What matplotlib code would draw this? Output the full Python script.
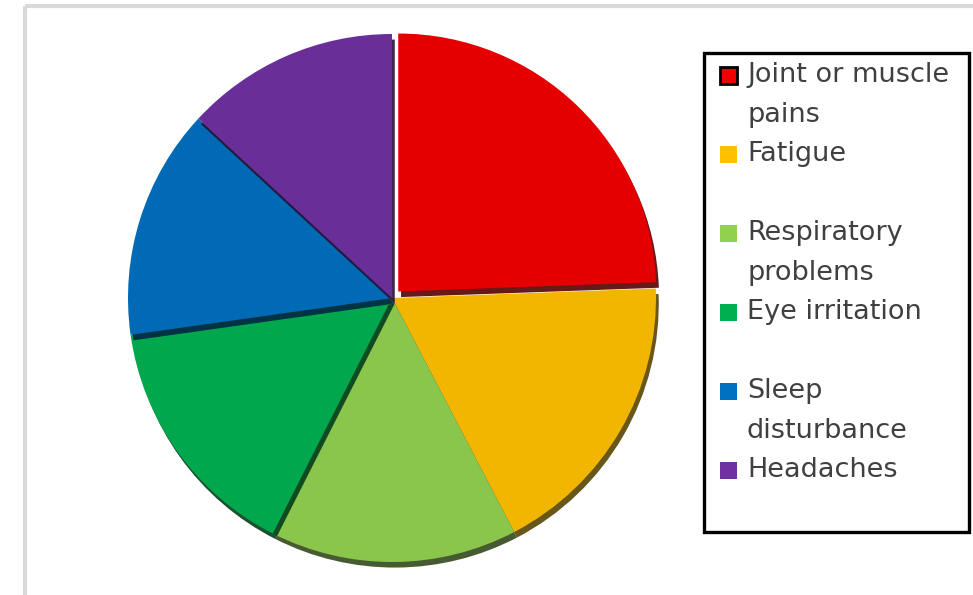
import matplotlib
matplotlib.use("Agg")
import matplotlib.pyplot as plt
import matplotlib.patheffects as pe
from matplotlib.colors import to_rgb
from matplotlib.patches import Rectangle
import numpy as np

# symptom shares (percent), clockwise from 12 o'clock
labels = ["Joint or muscle\npains", "Fatigue", "Respiratory\nproblems",
          "Eye irritation", "Sleep\ndisturbance", "Headaches"]
shares = [24.4, 17.9, 15.1, 15.3, 14.1, 13.1]
colors = ["#F00000", "#FFC000", "#92D050", "#00B050", "#0070C0", "#7030A0"]


def shade(c, f):
    r, g, b = to_rgb(c)
    return (r * f, g * f, b * f)


W, H = 973, 595
fig = plt.figure(figsize=(W / 100, H / 100), dpi=100)
ax = fig.add_axes([0, 0, 1, 1])

# light grey chart frame (only top and left visible)
ax.plot([25, W], [H - 6, H - 6], color="#D9D9D9", lw=3, solid_capstyle="butt")
ax.plot([25, 25], [0, H - 6], color="#D9D9D9", lw=3, solid_capstyle="butt")

pie_colors = [shade(c, 0.95) for c in colors]
explode = [9, 0, 0, 0, 0, 0]   # pie() takes explode in data units here (pixels)
wedges, _ = ax.pie(shares, colors=pie_colors, explode=explode, startangle=90,
                   counterclock=False, center=(392, H - 298), radius=264,
                   frame=True, wedgeprops=dict(linewidth=0))
wedges[0].set_radius(258)
for w, c in zip(wedges, colors):
    w.set_path_effects([pe.SimplePatchShadow(offset=(2, -4), shadow_rgbFace=shade(c, 0.35), alpha=0.9),
                        pe.Normal()])
ax.set_xlim(0, W)
ax.set_ylim(0, H)
ax.set_aspect("auto")
ax.axis("off")

# legend drawn by hand: each entry keeps the same vertical slot
ax.add_patch(Rectangle((704, H - 532), 265, 479, fill=False, edgecolor="black", lw=2.4))
first_y = 75
step = 79
for i, (lab, c) in enumerate(zip(labels, colors)):
    y = first_y + i * step
    ax.add_patch(Rectangle((720, H - y - 8.5), 17, 17, facecolor=c,
                           edgecolor="black" if i == 0 else "none", lw=2))
    for j, line in enumerate(lab.split("\n")):
        ax.text(747, H - y - j * 40, line, fontsize=19.5, family="DejaVu Sans",
                color="#404040", va="center", ha="left")

fig.savefig("out.png", dpi=100)
